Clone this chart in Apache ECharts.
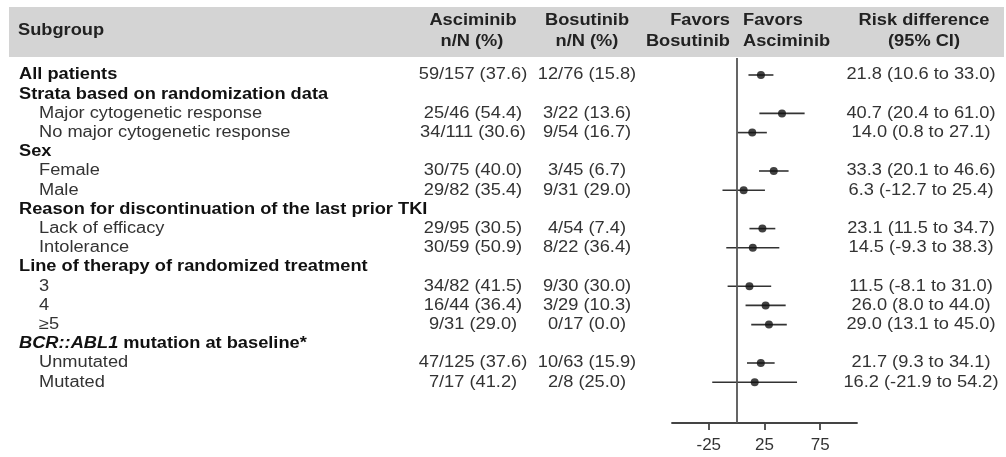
<!DOCTYPE html>
<html>
<head>
<meta charset="utf-8">
<script src="https://cdn.jsdelivr.net/npm/echarts@6/dist/echarts.min.js"></script>
<style>html,body{margin:0;padding:0;background:#fff}#c{width:1006px;height:457px}</style>
</head>
<body>
<div id="c"></div>
<script>
const subgroups = ['All patients','Strata based on randomization data','Major cytogenetic response','No major cytogenetic response','Sex','Female','Male','Reason for discontinuation of the last prior TKI','Lack of efficacy','Intolerance','Line of therapy of randomized treatment','3','4','\u22655','BCR::ABL1 mutation at baseline*','Unmutated','Mutated'];
const isHeading = [1,1,0,0,1,0,0,1,0,0,1,0,0,0,1,0,0];
const asciminibText = ['59/157 (37.6)','','25/46 (54.4)','34/111 (30.6)','','30/75 (40.0)','29/82 (35.4)','','29/95 (30.5)','30/59 (50.9)','','34/82 (41.5)','16/44 (36.4)','9/31 (29.0)','','47/125 (37.6)','7/17 (41.2)'];
const bosutinibText = ['12/76 (15.8)','','3/22 (13.6)','9/54 (16.7)','','3/45 (6.7)','9/31 (29.0)','','4/54 (7.4)','8/22 (36.4)','','9/30 (30.0)','3/29 (10.3)','0/17 (0.0)','','10/63 (15.9)','2/8 (25.0)'];
const riskDiff = [21.8,null,40.7,14.0,null,33.3,6.3,null,23.1,14.5,null,11.5,26.0,29.0,null,21.7,16.2];
const ciLow = [10.6,null,20.4,0.8,null,20.1,-12.7,null,11.5,-9.3,null,-8.1,8.0,13.1,null,9.3,-21.9];
const ciHigh = [33.0,null,61.0,27.1,null,46.6,25.4,null,34.7,38.3,null,31.0,44.0,45.0,null,34.1,54.2];
const xTicks = [-25, 25, 75];

const FF = "'Liberation Sans', Arial, sans-serif";
const SX = 1.14;
const FS = 16;
const BODY = '#333';

const riskText = riskDiff.map((v, i) => v == null ? '' : v.toFixed(1) + ' (' + ciLow[i].toFixed(1) + ' to ' + ciHigh[i].toFixed(1) + ')');
const ciData = [];
const ptData = [];
riskDiff.forEach((v, i) => {
  if (v != null) { ciData.push([ciLow[i], ciHigh[i], i]); ptData.push([v, i]); }
});
const rowData = subgroups.map((s, i) => [0, i]);

function txt(text, x, y, align, bold, color, extra) {
  return {
    type: 'text', x: x, y: y, scaleX: SX, originX: 0, originY: 0,
    style: Object.assign({
      text: text, x: 0, y: 0, align: align, verticalAlign: 'middle',
      fill: color, font: (bold ? 'bold ' : '') + FS + 'px ' + FF
    }, extra || {})
  };
}

function renderRow(params, api) {
  const i = params.dataIndex;
  const y = api.coord([0, i])[1];
  const kids = [];
  const name = subgroups[i];
  if (isHeading[i] || i === 0) {
    if (name.indexOf('BCR::ABL1') === 0) {
      kids.push(txt('{it|BCR::ABL1}' + name.slice(9), 19, y, 'left', true, '#111', {
        rich: { it: { fontStyle: 'italic', fontWeight: 'bold', fontSize: FS, fontFamily: FF, fill: '#111' } }
      }));
    } else {
      kids.push(txt(name, 19, y, 'left', true, '#111'));
    }
  } else {
    kids.push(txt(name, 39, y, 'left', false, BODY));
  }
  if (asciminibText[i]) kids.push(txt(asciminibText[i], 473, y, 'center', false, BODY));
  if (bosutinibText[i]) kids.push(txt(bosutinibText[i], 587, y, 'center', false, BODY));
  if (riskText[i]) kids.push(txt(riskText[i], 921, y, 'center', false, BODY));
  return { type: 'group', children: kids };
}

function renderCI(params, api) {
  const p1 = api.coord([api.value(0), api.value(2)]);
  const p2 = api.coord([api.value(1), api.value(2)]);
  return { type: 'line', shape: { x1: p1[0], y1: p1[1], x2: p2[0], y2: p2[1] },
    style: { stroke: '#333', lineWidth: 1.6 } };
}

function hdr(text, x, y, align) {
  return { type: 'text', x: x, y: y, scaleX: SX, z: 10,
    style: { text: text, x: 0, y: 0, align: align, verticalAlign: 'middle', fill: '#222', font: 'bold ' + FS + 'px ' + FF } };
}

const chart = echarts.init(document.getElementById('c'), null, { renderer: 'canvas' });
chart.setOption({
  backgroundColor: '#fff',
  animation: false,
  grid: { left: 672, right: 149, top: 58, bottom: 34, containLabel: false },
  xAxis: {
    type: 'value', min: -58, max: 108,
    splitLine: { show: false },
    axisLine: { show: true, onZero: false, lineStyle: { color: '#444', width: 1.8 } },
    axisTick: { show: true, customValues: xTicks, length: 7, lineStyle: { color: '#444', width: 1.8 } },
    axisLabel: { customValues: xTicks, color: '#333', fontSize: 17, fontFamily: FF, margin: 14 }
  },
  yAxis: {
    type: 'value', inverse: true, min: -0.885, max: 18.125,
    show: false, splitLine: { show: false }
  },
  graphic: [
    { type: 'rect', shape: { x: 9, y: 7, width: 995, height: 50 }, style: { fill: '#d4d4d4' }, z: 0 },
    hdr('Subgroup', 18, 31, 'left'),
    hdr('Asciminib', 473, 21, 'center'),
    hdr('n/N (%)', 472, 42, 'center'),
    hdr('Bosutinib', 587, 21, 'center'),
    hdr('n/N (%)', 587, 42, 'center'),
    hdr('Favors', 730, 21, 'right'),
    hdr('Bosutinib', 730, 42, 'right'),
    hdr('Favors', 743, 21, 'left'),
    hdr('Asciminib', 743, 42, 'left'),
    hdr('Risk difference', 924, 21, 'center'),
    hdr('(95% CI)', 924, 42, 'center')
  ],
  series: [
    {
      type: 'custom', name: 'rows', renderItem: renderRow, data: rowData, clip: false,
      encode: { x: 0, y: 1 }, silent: true
    },
    {
      type: 'custom', name: 'ci', renderItem: renderCI, data: ciData,
      encode: { x: [0, 1], y: 2 }, clip: false,
      markLine: {
        silent: true, symbol: 'none', label: { show: false },
        lineStyle: { color: '#555', width: 1.8, type: 'solid' },
        data: [{ xAxis: 0 }]
      }
    },
    {
      type: 'scatter', name: 'est', data: ptData, symbol: 'circle', symbolSize: 8,
      itemStyle: { color: '#111' }, z: 5
    }
  ]
});
</script>
</body>
</html>
